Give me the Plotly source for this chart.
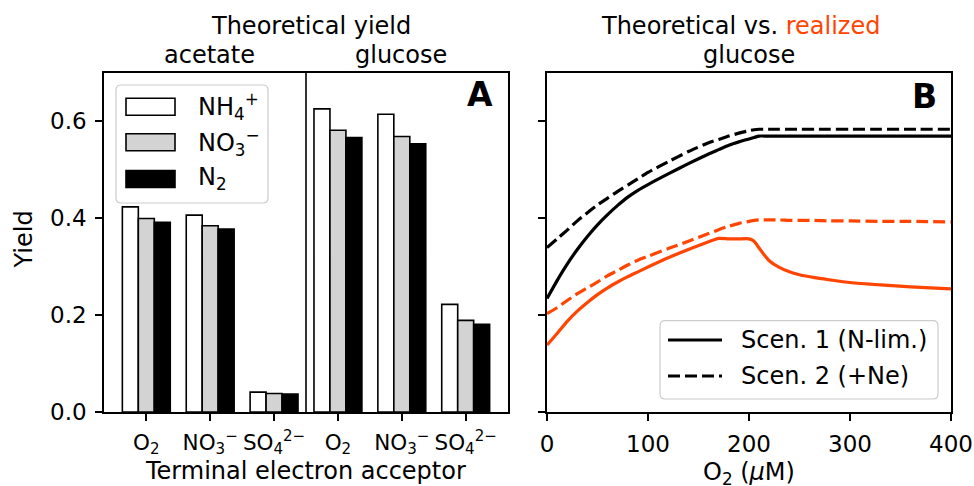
import plotly.graph_objects as go

# ---------------- data ----------------
substrates = ["acetate", "glucose"]
acceptors = ["O<sub>2</sub>", "NO<sub>3</sub><sup>−</sup>", "SO<sub>4</sub><sup>2−</sup>"]
tick_labels = acceptors + acceptors          # acetate group then glucose group
n_sources = ["NH<sub>4</sub><sup>+</sup>", "NO<sub>3</sub><sup>−</sup>", "N<sub>2</sub>"]

yield_nh4 = [0.423, 0.406, 0.041, 0.625, 0.614, 0.222]
yield_no3 = [0.399, 0.384, 0.038, 0.581, 0.568, 0.189]
yield_n2 = [0.391, 0.377, 0.037, 0.566, 0.553, 0.181]

o2_uM = [0, 10, 20, 30, 40, 50, 60, 70, 80, 90, 100, 120, 140, 160, 170, 180, 190,
         200, 205, 210, 215, 220, 230, 240, 250, 265, 280, 300, 330, 360, 400]
theo_scen1 = [0.234, 0.271, 0.305, 0.335, 0.362, 0.386, 0.407, 0.426, 0.443, 0.457, 0.469,
              0.491, 0.512, 0.532, 0.541, 0.550, 0.557, 0.563, 0.566, 0.569, 0.569, 0.569,
              0.569, 0.569, 0.569, 0.569, 0.569, 0.569, 0.569, 0.569, 0.569]
theo_scen2 = [0.339, 0.357, 0.375, 0.394, 0.411, 0.427, 0.441, 0.455, 0.468, 0.481, 0.494,
              0.516, 0.537, 0.555, 0.562, 0.569, 0.575, 0.580, 0.582, 0.583, 0.583, 0.583,
              0.583, 0.583, 0.583, 0.583, 0.583, 0.583, 0.583, 0.583, 0.583]
real_scen1 = [0.138, 0.162, 0.187, 0.208, 0.226, 0.242, 0.256, 0.268, 0.279, 0.289, 0.299,
              0.318, 0.335, 0.351, 0.358, 0.357, 0.357, 0.357, 0.352, 0.338, 0.324, 0.312,
              0.298, 0.289, 0.283, 0.277, 0.2725, 0.267, 0.262, 0.258, 0.254]
real_scen2 = [0.203, 0.215, 0.230, 0.244, 0.256, 0.268, 0.281, 0.292, 0.303, 0.313, 0.321,
              0.337, 0.352, 0.368, 0.376, 0.383, 0.389, 0.393, 0.395, 0.396, 0.396, 0.396,
              0.396, 0.395, 0.395, 0.395, 0.394, 0.394, 0.393, 0.393, 0.392]

y_ticks = [0.0, 0.2, 0.4, 0.6]
x2_ticks = [0, 100, 200, 300, 400]
scen_labels = ["Scen. 1 (N-lim.)", "Scen. 2 (+Ne)"]

# ---------------- styling ----------------
W, H = 974, 486
FONT = "DejaVu Sans"
ORANGE = "#ff4500"
BAR_FILLS = ["white", "#d3d3d3", "black"]
LW = 1.6
DASH = "12px,5px"


def X(px):
    return px / W


def Y(py):
    return 1 - py / H


fig = go.Figure()

x_idx = list(range(len(tick_labels)))
for name, vals, fill in zip(n_sources, [yield_nh4, yield_no3, yield_n2], BAR_FILLS):
    fig.add_trace(go.Bar(x=x_idx, y=vals, name=name, marker=dict(color=fill, line=dict(color="black", width=LW)),
                         xaxis="x", yaxis="y", showlegend=False))

for vals, color, dash in [(theo_scen1, "black", "solid"), (theo_scen2, "black", DASH),
                          (real_scen1, ORANGE, "solid"), (real_scen2, ORANGE, DASH)]:
    fig.add_trace(go.Scatter(x=o2_uM, y=vals, mode="lines",
                             line=dict(color=color, width=3.2, dash=dash, shape="spline", smoothing=0.6),
                             xaxis="x2", yaxis="y2", showlegend=False))

axis_common = dict(showline=True, mirror=True, linecolor="black", linewidth=LW, ticks="outside",
                   ticklen=7, tickwidth=LW, tickcolor="black", showgrid=False, zeroline=False,
                   automargin=False, tickangle=0)
tickfont = dict(family=FONT, size=23, color="black")

y_dom = [Y(412), Y(72.5)]
fig.update_layout(
    width=W, height=H, margin=dict(l=0, r=0, t=0, b=0),
    paper_bgcolor="white", plot_bgcolor="white",
    barmode="group", bargap=0.25, bargroupgap=0,
    font=dict(family=FONT, size=24, color="black"),
    xaxis=dict(domain=[X(104), X(508)], range=[-0.6625, 5.6625], tickvals=x_idx, ticktext=tick_labels,
               anchor="y", ticklabelstandoff=3, tickfont=dict(family=FONT, size=21.5, color="black"),
               **axis_common),
    yaxis=dict(domain=y_dom, range=[0, 0.7], tickvals=y_ticks, tickformat=".1f", anchor="x",
               ticklabelstandoff=4, tickfont=tickfont, **axis_common),
    xaxis2=dict(domain=[X(547), X(951)], range=[0, 400], tickvals=x2_ticks, anchor="y2",
                ticklabelstandoff=4, tickfont=tickfont, **axis_common),
    yaxis2=dict(domain=y_dom, range=[0, 0.7], tickvals=y_ticks, matches="y", anchor="x2",
                showticklabels=False, **axis_common),
)

shapes = []
# separator between acetate and glucose groups
sep = len(acceptors) - 0.5
shapes.append(dict(type="line", xref="x", yref="y domain", x0=sep, x1=sep, y0=0, y1=1,
                   line=dict(color="black", width=LW), layer="above"))


def rounded_box(x0, y0, x1, y1, r=5):
    # pixel coords -> paper path with rounded corners
    rx, ry = r / W, r / H
    a, b, c, d = X(x0), Y(y0), X(x1), Y(y1)  # b top, d bottom (paper)
    path = (f"M{a+rx},{b} L{c-rx},{b} Q{c},{b} {c},{b-ry} L{c},{d+ry} Q{c},{d} {c-rx},{d} "
            f"L{a+rx},{d} Q{a},{d} {a},{d+ry} L{a},{b-ry} Q{a},{b} {a+rx},{b} Z")
    return dict(type="path", xref="paper", yref="paper", path=path,
                fillcolor="rgba(255,255,255,0.8)", line=dict(color="#cccccc", width=1.2), layer="above")


# legend A
shapes.append(rounded_box(116, 85, 268, 203))
rows_a = [106.7, 142.3, 179.0]
for yc, fill in zip(rows_a, BAR_FILLS):
    shapes.append(dict(type="rect", xref="paper", yref="paper", x0=X(126), x1=X(175), y0=Y(yc + 8.5),
                       y1=Y(yc - 8.5), fillcolor=fill, line=dict(color="black", width=LW), layer="above"))
# legend B
shapes.append(rounded_box(660, 320.7, 938, 399))
rows_b = [340.0, 376.0]
for yc, dash in zip(rows_b, ["solid", DASH]):
    shapes.append(dict(type="line", xref="paper", yref="paper", x0=X(668), x1=X(722), y0=Y(yc), y1=Y(yc),
                       line=dict(color="black", width=3.2, dash=dash), layer="above"))
fig.update_layout(shapes=shapes)

ann = []


def text(t, px, py, size=24, xanchor="center", yanchor="middle", **kw):
    ann.append(dict(text=t, x=X(px), y=Y(py), xref="paper", yref="paper", showarrow=False, borderpad=0,
                    xanchor=xanchor, yanchor=yanchor, font=dict(family=FONT, size=size, color="black"), **kw))


text("Theoretical yield", 311, 25.5)
text(substrates[0], 209.7, 54.5)
text(substrates[1], 400.8, 54.5)
text(f"Theoretical vs. <span style='color:{ORANGE}'>realized</span>", 740, 25.5)
text(substrates[1], 749, 54.5)
text("<b>A</b>", 480, 94, size=33)
text("<b>B</b>", 924.7, 96, size=33)
text("Yield", 23.5, 240, textangle=-90)
text("Terminal electron acceptor", 305, 471)
text("O<sub>2</sub> (<i>μ</i>M)", 749, 473)
for yc, lab in zip(rows_a, n_sources):
    text(lab, 196.7, yc, xanchor="left")
for yc, lab in zip(rows_b, scen_labels):
    text(lab, 740, yc, xanchor="left")
fig.update_layout(annotations=ann)

fig.write_html("out.html")
